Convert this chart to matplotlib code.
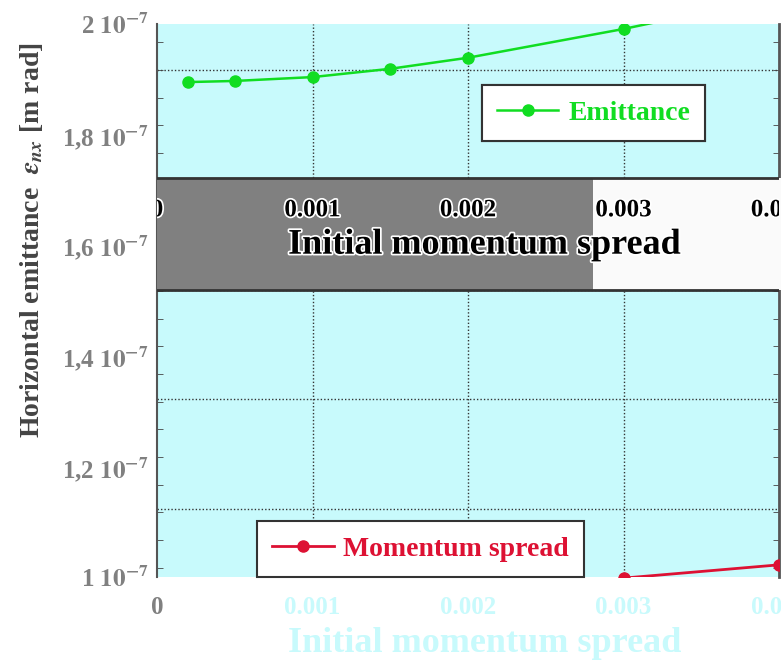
import numpy as np
import matplotlib.pyplot as plt
import matplotlib.patheffects as pe
from matplotlib.patches import Rectangle

plt.rcParams['font.family'] = ['Liberation Serif', 'DejaVu Serif']
plt.rcParams['font.weight'] = 'bold'
plt.rcParams['mathtext.fontset'] = 'stix'

# data
x_emit = [0.0002, 0.0005, 0.001, 0.0015, 0.002, 0.003, 0.004]
emittance = [1.895e-7, 1.897e-7, 1.904e-7, 1.919e-7, 1.939e-7, 1.991e-7, 2.05e-7]
x_mom = [0.002, 0.003, 0.004]
mom_spread = [0.00079, 0.00099, 0.00111]

y_ticks = [2.0e-7, 1.8e-7, 1.6e-7, 1.4e-7, 1.2e-7, 1.0e-7]
y_labels = ["2 $\\mathbf{10^{-7}}$", "1,8 $\\mathbf{10^{-7}}$", "1,6 $\\mathbf{10^{-7}}$",
            "1,4 $\\mathbf{10^{-7}}$", "1,2 $\\mathbf{10^{-7}}$", "1 $\\mathbf{10^{-7}}$"]
x_ticks = [0, 0.001, 0.002, 0.003, 0.004]
x_labels = ["0", "0.001", "0.002", "0.003", "0.004"]
grid_y = [1.917e-7, 1.718e-7, 1.519e-7, 1.322e-7, 1.123e-7]

cyan = '#c8fafc'
green = '#11dd22'
red = '#dd1133'
gray = '#808080'

fig = plt.figure(figsize=(7.81, 6.61), dpi=100)
ax = fig.add_axes([157/781, 84/661, 622/781, 553/661])
ax.set_facecolor(cyan)
ax.set_xlim(0, 0.004)
ax.set_ylim(1.0e-7, 2.0e-7)

# grid (dotted)
for g in grid_y:
    ax.axhline(g, color='#333333', lw=1, ls=(0, (1, 1.5)), zorder=1)
for xv in [0.001, 0.002, 0.003]:
    ax.axvline(xv, color='#333333', lw=1, ls=(0, (1, 1.5)), zorder=1)

line_e, = ax.plot(x_emit, emittance, '-o', color=green, ms=8, lw=1.8, label='Emittance', zorder=3)

ax2 = ax.twinx()
ax2.set_ylim(0.001, 0.006)
line_m, = ax2.plot(x_mom, mom_spread, '-o', color=red, ms=8, lw=2, label='Momentum spread', zorder=3)
ax2.set_yticks([])
for s in ax2.spines.values():
    s.set_visible(False)

# ticks
ax.set_yticks(y_ticks)
ax.set_yticklabels(y_labels, color=gray, fontsize=18, fontweight='bold')
ax.set_yticks(np.arange(1.017e-7, 2.0e-7, 0.05e-7), minor=True)
ax.tick_params(axis='y', which='major', length=0, pad=6)
ax.tick_params(axis='y', which='minor', length=4, direction='in', right=True, color='#444444')
ax.set_xticks(x_ticks)
ax.set_xticklabels(x_labels, color=cyan, fontsize=18, fontweight='bold')
ax.get_xticklabels()[0].set_color(gray)
ax.tick_params(axis='x', which='both', length=0, pad=14)
for s in ['top', 'bottom']:
    ax.spines[s].set_visible(False)
ax.spines['left'].set_color('#555555')
ax.spines['right'].set_color('#555555')
ax.spines['left'].set_linewidth(1.5)
ax.spines['right'].set_linewidth(2)

ax.set_xlabel("Initial momentum spread", color=cyan, fontsize=26, fontweight='bold')
ax.xaxis.set_label_coords(0.527, -0.09)
ax.set_ylabel("Horizontal emittance  $\\epsilon_{nx}$ [m rad]", color='#444444', fontsize=20,
              fontweight='bold')
ax.yaxis.set_label_coords(-0.18, 0.61)

# overlapping band with a second axis strip
band_lo, band_hi = 0.519, 0.7215
ax.add_patch(Rectangle((0, band_lo), 0.701, band_hi - band_lo, transform=ax.transAxes,
                       facecolor=gray, edgecolor='none', zorder=4, clip_on=False))
ax.add_patch(Rectangle((0.701, band_lo), 0.31, band_hi - band_lo, transform=ax.transAxes,
                       facecolor='#fafafa', edgecolor='none', zorder=4, clip_on=False))
for yb in [band_lo, band_hi]:
    ax.plot([0, 1], [yb, yb], transform=ax.transAxes, color='#333333', lw=2, zorder=5)
outline = [pe.withStroke(linewidth=2.5, foreground='white')]
for xv, lab in zip(x_ticks, x_labels):
    ax.text(xv, 0.664, lab, transform=ax.get_xaxis_transform(), ha='center', va='center',
            fontsize=18, fontweight='bold', color='black', zorder=6, path_effects=outline,
            clip_on=True)
ax.text(0.527, 0.600, "Initial momentum spread", transform=ax.transAxes, ha='center', va='center',
        fontsize=26, fontweight='bold', color='black', zorder=6, path_effects=outline)

leg1 = ax.legend(handles=[line_e], loc='upper left', bbox_to_anchor=(0.5225, 0.89),
                 borderaxespad=0, fontsize=20, frameon=True, fancybox=False, framealpha=1,
                 edgecolor='#333333', borderpad=0.55, handlelength=2.2, handletextpad=0.35,
                 labelcolor=green)
leg1.get_frame().set_linewidth(1.5)
leg1.set_zorder(7)
ax.add_artist(leg1)
leg2 = ax2.legend(handles=[line_m], loc='lower left', bbox_to_anchor=(0.161, 0.0),
                  borderaxespad=0, fontsize=20, frameon=True, fancybox=False, framealpha=1,
                  edgecolor='#333333', borderpad=0.55, handlelength=2.2, handletextpad=0.35,
                  labelcolor=red)
leg2.get_frame().set_linewidth(1.5)

fig.savefig('out.png', dpi=100)
